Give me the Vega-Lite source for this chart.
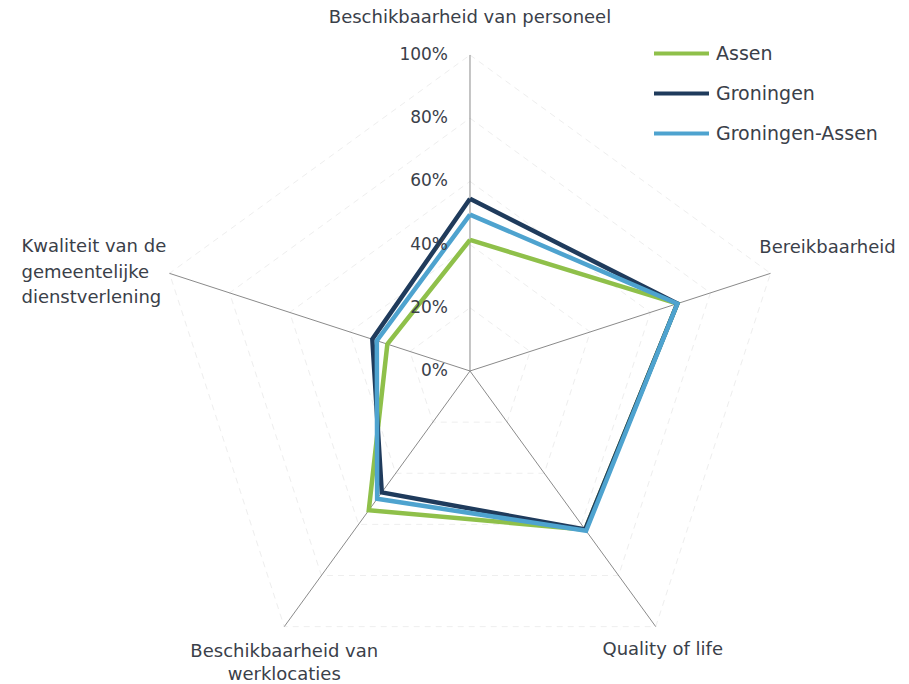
{
  "$schema": "https://vega.github.io/schema/vega-lite/v6.json",
  "width": 909,
  "height": 684,
  "autosize": "none",
  "padding": 0,
  "background": "white",
  "config": {"view": {"stroke": null}, "text": {"font": "DejaVu Sans", "fontSize": 18, "color": "#3a4049"}},
  "datasets": {
    "series": [
      {"series": "Assen", "idx": 0, "v": 41.5},
      {"series": "Assen", "idx": 1, "v": 69},
      {"series": "Assen", "idx": 2, "v": 62},
      {"series": "Assen", "idx": 3, "v": 54.5},
      {"series": "Assen", "idx": 4, "v": 27.5},
      {"series": "Assen", "idx": 5, "v": 41.5},
      {"series": "Groningen", "idx": 0, "v": 54.5},
      {"series": "Groningen", "idx": 1, "v": 69},
      {"series": "Groningen", "idx": 2, "v": 62},
      {"series": "Groningen", "idx": 3, "v": 47.5},
      {"series": "Groningen", "idx": 4, "v": 32.5},
      {"series": "Groningen", "idx": 5, "v": 54.5},
      {"series": "Groningen-Assen", "idx": 0, "v": 49.5},
      {"series": "Groningen-Assen", "idx": 1, "v": 69},
      {"series": "Groningen-Assen", "idx": 2, "v": 62.5},
      {"series": "Groningen-Assen", "idx": 3, "v": 50},
      {"series": "Groningen-Assen", "idx": 4, "v": 31},
      {"series": "Groningen-Assen", "idx": 5, "v": 49.5}
    ],
    "grid": [
      {"level": 20, "idx": 0}, {"level": 20, "idx": 1}, {"level": 20, "idx": 2}, {"level": 20, "idx": 3}, {"level": 20, "idx": 4}, {"level": 20, "idx": 5},
      {"level": 40, "idx": 0}, {"level": 40, "idx": 1}, {"level": 40, "idx": 2}, {"level": 40, "idx": 3}, {"level": 40, "idx": 4}, {"level": 40, "idx": 5},
      {"level": 60, "idx": 0}, {"level": 60, "idx": 1}, {"level": 60, "idx": 2}, {"level": 60, "idx": 3}, {"level": 60, "idx": 4}, {"level": 60, "idx": 5},
      {"level": 80, "idx": 0}, {"level": 80, "idx": 1}, {"level": 80, "idx": 2}, {"level": 80, "idx": 3}, {"level": 80, "idx": 4}, {"level": 80, "idx": 5},
      {"level": 100, "idx": 0}, {"level": 100, "idx": 1}, {"level": 100, "idx": 2}, {"level": 100, "idx": 3}, {"level": 100, "idx": 4}, {"level": 100, "idx": 5}
    ],
    "cats": [
      {"idx": 0, "label": "Beschikbaarheid van personeel"},
      {"idx": 1, "label": "Bereikbaarheid"},
      {"idx": 2, "label": "Quality of life"},
      {"idx": 3, "label": "Beschikbaarheid van\nwerklocaties"},
      {"idx": 4, "label": "Kwaliteit van de\ngemeentelijke\ndienstverlening"}
    ],
    "ticks": [
      {"label": "0%", "v": 0},
      {"label": "20%", "v": 20},
      {"label": "40%", "v": 40},
      {"label": "60%", "v": 60},
      {"label": "80%", "v": 80},
      {"label": "100%", "v": 100}
    ]
  },
  "encoding": {
    "x": {"field": "px", "type": "quantitative", "scale": {"domain": [-1.48734, 1.38924], "nice": false, "zero": false}, "axis": null},
    "y": {"field": "py", "type": "quantitative", "scale": {"domain": [-0.99051, 1.17405], "nice": false, "zero": false}, "axis": null}
  },
  "layer": [
    {
      "data": {"name": "grid"},
      "transform": [
        {"calculate": "datum.level/100*sin(datum.idx*2*PI/5)", "as": "px"},
        {"calculate": "datum.level/100*cos(datum.idx*2*PI/5)", "as": "py"}
      ],
      "mark": {"type": "line", "stroke": "#eeeeee", "strokeWidth": 1, "strokeDash": [6, 5]},
      "encoding": {"detail": {"field": "level"}, "order": {"field": "idx", "type": "quantitative"}}
    },
    {
      "data": {"name": "cats"},
      "transform": [
        {"calculate": "0", "as": "ox"},
        {"calculate": "sin(datum.idx*2*PI/5)", "as": "px"},
        {"calculate": "cos(datum.idx*2*PI/5)", "as": "py"}
      ],
      "mark": {"type": "rule", "stroke": "#8a8a8a", "strokeWidth": 1},
      "encoding": {
        "x": {"field": "ox", "type": "quantitative"},
        "y": {"field": "ox", "type": "quantitative"},
        "x2": {"field": "px"},
        "y2": {"field": "py"}
      }
    },
    {
      "data": {"name": "series"},
      "transform": [
        {"calculate": "datum.v/100*sin(datum.idx*2*PI/5)", "as": "px"},
        {"calculate": "datum.v/100*cos(datum.idx*2*PI/5)", "as": "py"}
      ],
      "mark": {"type": "line", "strokeWidth": 4.5, "strokeJoin": "miter"},
      "encoding": {
        "color": {
          "field": "series", "type": "nominal",
          "scale": {"domain": ["Assen", "Groningen", "Groningen-Assen"], "range": ["#8fc04a", "#1f3b5c", "#4ea3cf"]},
          "legend": {
            "orient": "none", "legendX": 652, "legendY": 24, "title": null,
            "symbolType": "stroke", "symbolSize": 3025, "symbolStrokeWidth": 4,
            "labelFontSize": 19, "labelFont": "DejaVu Sans", "labelColor": "#3a4049",
            "labelOffset": 5, "labelLimit": 400, "rowPadding": -15, "padding": 0
          }
        },
        "order": {"field": "idx", "type": "quantitative"}
      }
    },
    {
      "data": {"name": "ticks"},
      "transform": [
        {"calculate": "0", "as": "px"},
        {"calculate": "datum.v/100", "as": "py"}
      ],
      "mark": {"type": "text", "align": "right", "baseline": "middle", "dx": -22, "fontSize": 17},
      "encoding": {"text": {"field": "label"}}
    },
    {
      "data": {"name": "cats"},
      "transform": [
        {"filter": "datum.idx == 0"},
        {"calculate": "sin(datum.idx*2*PI/5)", "as": "px"},
        {"calculate": "cos(datum.idx*2*PI/5)", "as": "py"}
      ],
      "mark": {"type": "text", "align": "center", "baseline": "middle", "dy": -37},
      "encoding": {"text": {"field": "label"}}
    },
    {
      "data": {"name": "cats"},
      "transform": [
        {"filter": "datum.idx == 1"},
        {"calculate": "sin(datum.idx*2*PI/5)", "as": "px"},
        {"calculate": "cos(datum.idx*2*PI/5)", "as": "py"}
      ],
      "mark": {"type": "text", "align": "center", "baseline": "middle", "dx": 57, "dy": -25},
      "encoding": {"text": {"field": "label"}}
    },
    {
      "data": {"name": "cats"},
      "transform": [
        {"filter": "datum.idx == 2"},
        {"calculate": "sin(datum.idx*2*PI/5)", "as": "px"},
        {"calculate": "cos(datum.idx*2*PI/5)", "as": "py"}
      ],
      "mark": {"type": "text", "align": "center", "baseline": "middle", "dx": 7, "dy": 23},
      "encoding": {"text": {"field": "label"}}
    },
    {
      "data": {"name": "cats"},
      "transform": [
        {"filter": "datum.idx == 3"},
        {"calculate": "sin(datum.idx*2*PI/5)", "as": "px"},
        {"calculate": "cos(datum.idx*2*PI/5)", "as": "py"}
      ],
      "mark": {"type": "text", "align": "center", "baseline": "middle", "dx": 0, "dy": 25, "lineBreak": "\n", "lineHeight": 23},
      "encoding": {"text": {"field": "label"}}
    },
    {
      "data": {"name": "cats"},
      "transform": [
        {"filter": "datum.idx == 4"},
        {"calculate": "sin(datum.idx*2*PI/5)", "as": "px"},
        {"calculate": "cos(datum.idx*2*PI/5)", "as": "py"}
      ],
      "mark": {"type": "text", "align": "left", "baseline": "middle", "dx": -148, "dy": -26, "lineBreak": "\n", "lineHeight": 25.5},
      "encoding": {"text": {"field": "label"}}
    }
  ]
}
